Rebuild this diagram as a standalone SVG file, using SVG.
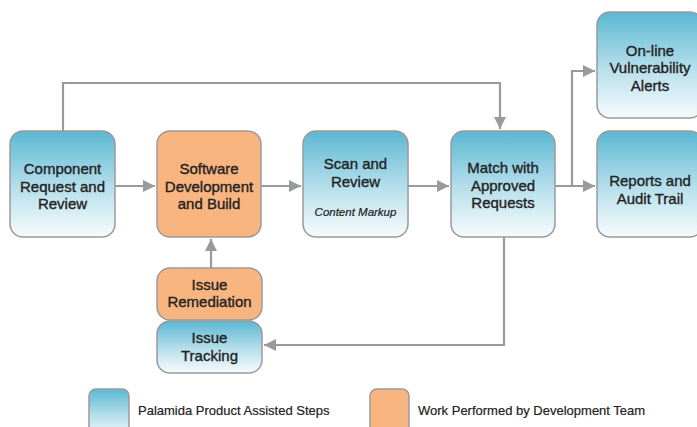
<svg xmlns="http://www.w3.org/2000/svg" width="697" height="427" viewBox="0 0 697 427">
<defs>
<linearGradient id="blue" x1="0" y1="0" x2="0" y2="1">
<stop offset="0" stop-color="#5bb7d3"/>
<stop offset="0.55" stop-color="#b9e0ec"/>
<stop offset="1" stop-color="#f7fbfd"/>
</linearGradient>
<marker id="arr" viewBox="0 0 10 10" refX="10" refY="5" markerWidth="5.5" markerHeight="5.5" markerUnits="strokeWidth" orient="auto">
<path d="M0,0 L10,5 L0,10 z" fill="#999a9c"/>
</marker>
<style>
.b{fill:url(#blue);stroke:#9a9a9a;stroke-width:1.5}
.o{fill:#f8b580;stroke:#9a9a9a;stroke-width:1.5}
.t{font-family:"Liberation Sans",Arial,sans-serif;font-size:15px;fill:#222;stroke:#222;stroke-width:0.35;text-anchor:middle}
.s{font-family:"Liberation Sans",Arial,sans-serif;font-size:11.5px;fill:#222;stroke:#222;stroke-width:0.2;font-style:italic;text-anchor:middle}
.l{font-family:"Liberation Sans",Arial,sans-serif;font-size:13px;fill:#222;stroke:#222;stroke-width:0.2}
.c{fill:none;stroke:#999a9c;stroke-width:2.2;marker-end:url(#arr)}
</style>
</defs>
<rect width="697" height="427" fill="#fff"/>
<g id="connectors">
<path class="c" d="M63,131 V83 H500 V129"/>
<path class="c" d="M115,186 H155"/>
<path class="c" d="M261,186 H301"/>
<path class="c" d="M408,186 H449"/>
<path class="c" d="M555,186 H595"/>
<path class="c" d="M572,186 V71 H595"/>
<path class="c" d="M504,237 V345 H264"/>
<path class="c" d="M211,268 V239"/>
</g>
<g id="component">
<rect class="b" x="10" y="131" width="105" height="106" rx="13"/>
<text class="t"><tspan x="62.5" y="174">Component</tspan><tspan x="62.5" y="191.5">Request and</tspan><tspan x="62.5" y="209">Review</tspan></text>
</g>
<g id="software">
<rect class="o" x="157" y="131" width="104" height="106" rx="13"/>
<text class="t"><tspan x="209" y="174">Software</tspan><tspan x="209" y="191.5">Development</tspan><tspan x="209" y="209">and Build</tspan></text>
</g>
<g id="scan">
<rect class="b" x="303" y="131" width="105" height="106" rx="13"/>
<text class="t"><tspan x="355.5" y="169">Scan and</tspan><tspan x="355.5" y="187">Review</tspan></text>
<text class="s" x="355.5" y="215.5">Content Markup</text>
</g>
<g id="match">
<rect class="b" x="451" y="131" width="104" height="106" rx="13"/>
<text class="t"><tspan x="503" y="173">Match with</tspan><tspan x="503" y="190.5">Approved</tspan><tspan x="503" y="208">Requests</tspan></text>
</g>
<g id="online">
<rect class="b" x="597" y="12" width="106" height="106" rx="13"/>
<text class="t"><tspan x="650" y="55.5">On-line</tspan><tspan x="650" y="73">Vulnerability</tspan><tspan x="650" y="90.5">Alerts</tspan></text>
</g>
<g id="reports">
<rect class="b" x="597" y="131" width="106" height="106" rx="13"/>
<text class="t"><tspan x="650" y="185.5">Reports and</tspan><tspan x="650" y="203.5">Audit Trail</tspan></text>
</g>
<g id="remediation">
<rect class="o" x="157" y="268" width="105" height="52" rx="13"/>
<text class="t"><tspan x="209.5" y="289.5">Issue</tspan><tspan x="209.5" y="307">Remediation</tspan></text>
</g>
<g id="tracking">
<rect class="b" x="157" y="321" width="105" height="52" rx="13"/>
<text class="t"><tspan x="209.5" y="342.5">Issue</tspan><tspan x="209.5" y="360.5">Tracking</tspan></text>
</g>
<g id="legend">
<rect class="b" x="89" y="389" width="40" height="50" rx="7"/>
<text class="l" x="138" y="415">Palamida Product Assisted Steps</text>
<rect class="o" x="370" y="389" width="39" height="50" rx="7"/>
<text class="l" x="418" y="415">Work Performed by Development Team</text>
</g>
</svg>
